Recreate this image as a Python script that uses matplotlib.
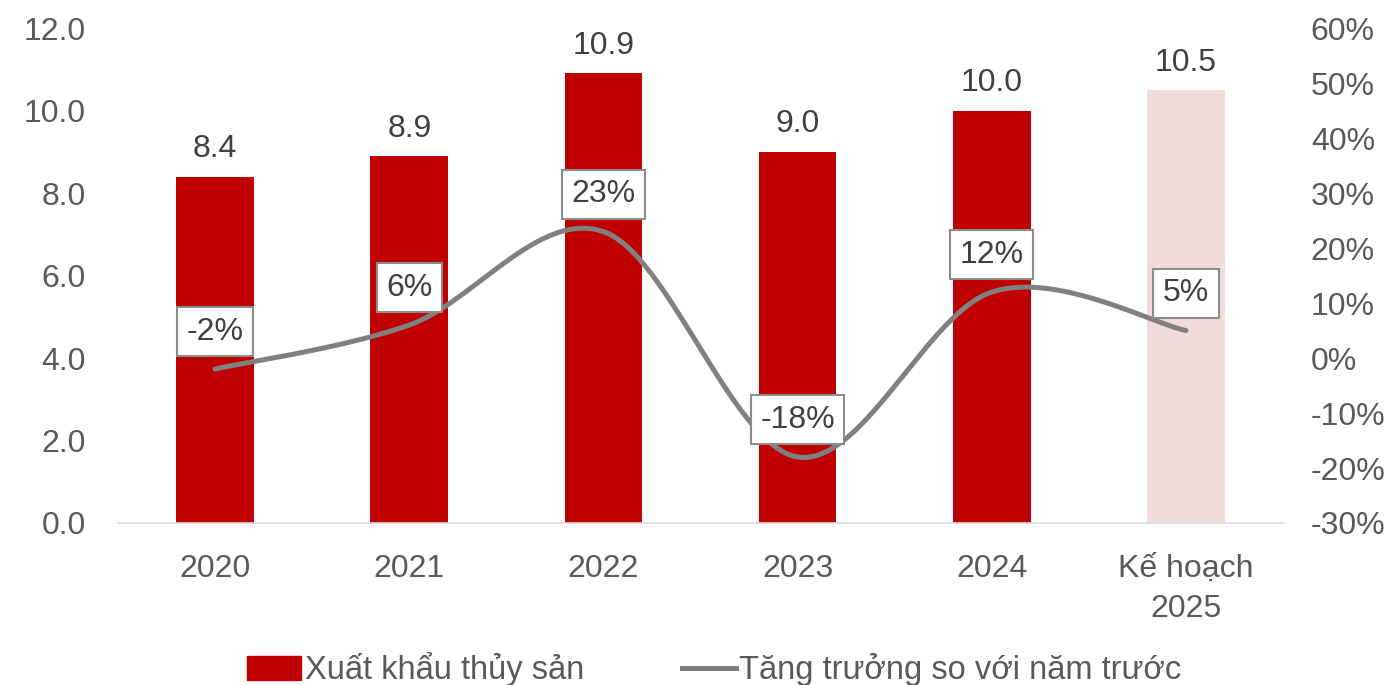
import numpy as np
import matplotlib
matplotlib.use("Agg")
import matplotlib.pyplot as plt
from matplotlib.patches import Patch
from matplotlib.lines import Line2D

plt.rcParams['font.family'] = ['Liberation Sans', 'DejaVu Sans']

# Données
categories = ["2020", "2021", "2022", "2023", "2024", "Kế hoạch\n2025"]
xuat_khau = [8.4, 8.9, 10.9, 9.0, 10.0, 10.5]
tang_truong = [-2, 6, 23, -18, 12, 5]
bar_colors = ["#C00000"] * 5 + ["#F2DCDB"]

fig = plt.figure(figsize=(13.95, 6.85), dpi=100)
ax = fig.add_axes([0.0846, 0.2365, 0.8351, 0.7225])
ax2 = ax.twinx()

x = np.arange(len(categories))
ax.bar(x, xuat_khau, width=0.4, color=bar_colors, zorder=2)
for xi, v in zip(x, xuat_khau):
    ax.text(xi, v + 0.3, f"{v:.1f}", ha="center", va="bottom", fontsize=23, color="#404040")

ax.set_xlim(-0.5, len(categories) - 0.5)
ax.set_ylim(0, 12)
ax.set_yticks(np.arange(0, 12.1, 2))
ax.set_yticklabels([f"{t:.1f}" for t in np.arange(0, 12.1, 2)])
ax.set_xticks(x)
ax.set_xticklabels(categories, linespacing=1.45)
ax.tick_params(axis="both", length=0, labelsize=23, colors="#595959")
ax.tick_params(axis="x", pad=22)
ax.tick_params(axis="y", pad=23)
for s in ["top", "left", "right"]:
    ax.spines[s].set_visible(False)
    ax2.spines[s].set_visible(False)
ax.spines["bottom"].set_color("#D9D9D9")
ax.spines["bottom"].set_linewidth(1.2)
ax2.spines["bottom"].set_visible(False)

# Courbe lissée (style Excel, Catmull-Rom)
def lisser(xs, ys, n=40):
    xs = np.asarray(xs, float)
    ys = np.asarray(ys, float)
    px = np.concatenate([[xs[0]], xs, [xs[-1]]])
    py = np.concatenate([[ys[0]], ys, [ys[-1]]])
    out_x, out_y = [], []
    for i in range(1, len(px) - 2):
        p0, p1, p2, p3 = (np.array([px[j], py[j]]) for j in (i - 1, i, i + 1, i + 2))
        c1 = p1 + (p2 - p0) / 6
        c2 = p2 - (p3 - p1) / 6
        t = np.linspace(0, 1, n)[:, None]
        pts = (1 - t) ** 3 * p1 + 3 * (1 - t) ** 2 * t * c1 + 3 * (1 - t) * t ** 2 * c2 + t ** 3 * p2
        out_x.extend(pts[:, 0])
        out_y.extend(pts[:, 1])
    return out_x, out_y

sx, sy = lisser(x, tang_truong)
ax2.plot(sx, sy, color="#808080", linewidth=3.6, solid_capstyle="round", zorder=3)
ax2.set_ylim(-30, 60)
ax2.set_yticks(np.arange(-30, 61, 10))
ax2.set_yticklabels([f"{t}%" for t in range(-30, 61, 10)])
ax2.tick_params(axis="y", length=0, labelsize=23, colors="#595959", pad=20)

for xi, v in zip(x, tang_truong):
    ax2.text(xi, v + 6.8, f"{v}%", ha="center", va="center", fontsize=23, color="#404040",
             bbox=dict(boxstyle="square,pad=0.3", fc="white", ec="#8C8C8C", lw=1.5), zorder=4)

handles = [Patch(color="#C00000"), Line2D([0], [0], color="#808080", linewidth=3.6)]
fig.legend(handles, ["Xuất khẩu thủy sản", "Tăng trưởng so với năm trước"],
           loc="lower center", bbox_to_anchor=(0.512, -0.045), ncol=2, frameon=False,
           fontsize=23.5, labelcolor="#595959", handlelength=1.65, handleheight=0.75,
           handletextpad=0.12, columnspacing=3.0)

fig.savefig("out.png", dpi=100)
